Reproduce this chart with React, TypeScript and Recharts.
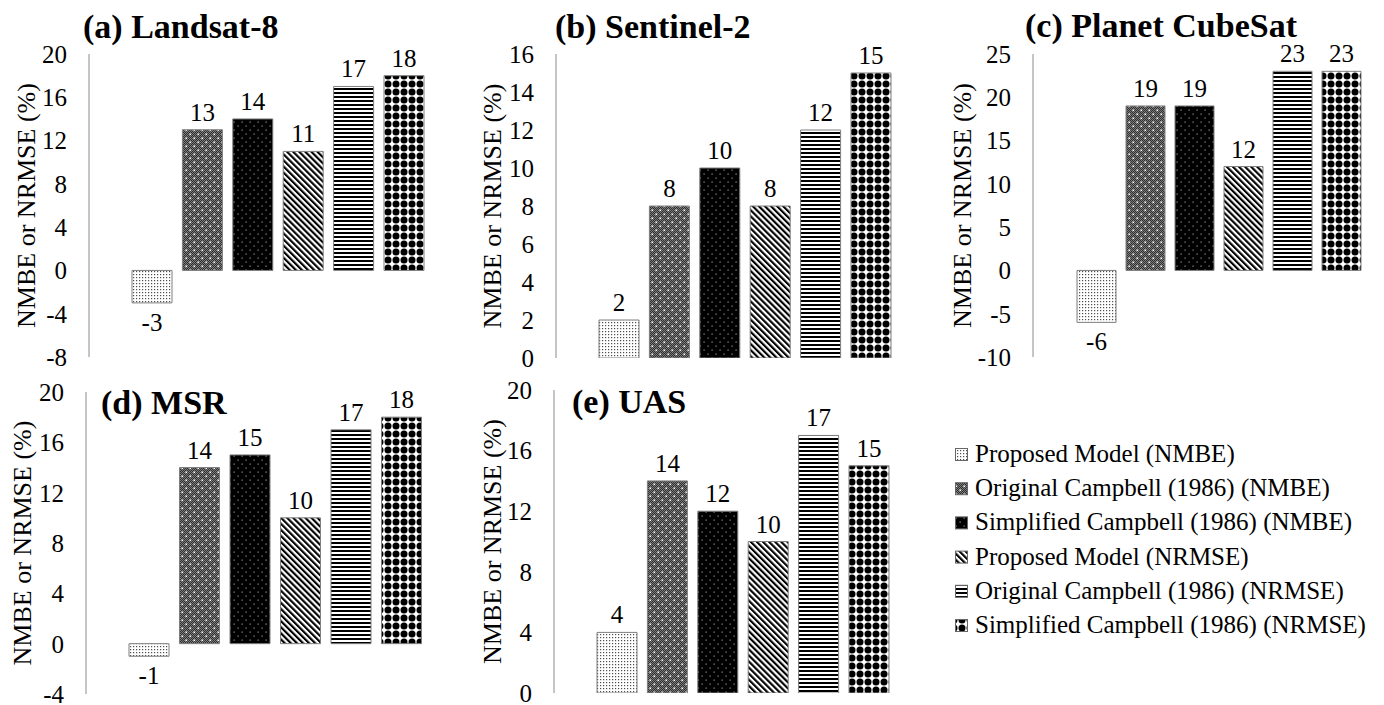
import React from 'react';
import { BarChart, Bar, XAxis, YAxis, LabelList, Legend } from 'recharts';

const FONT = '"Liberation Serif", "Times New Roman", Times, serif';

// ---------- data ----------
const SERIES_KEYS = ['pmNmbe', 'ocNmbe', 'scNmbe', 'pmNrmse', 'ocNrmse', 'scNrmse'];
const SERIES_NAMES = [
  'Proposed Model (NMBE)',
  'Original Campbell (1986) (NMBE)',
  'Simplified Campbell (1986) (NMBE)',
  'Proposed Model (NRMSE)',
  'Original Campbell (1986) (NRMSE)',
  'Simplified Campbell (1986) (NRMSE)',
];
const PANEL_TITLES = ['(a) Landsat-8', '(b) Sentinel-2', '(c) Planet CubeSat', '(d) MSR', '(e) UAS'];
const Y_TITLE = 'NMBE or NRMSE (%)';

const landsat8Values = [-3, 13, 14, 11, 17, 18];
const sentinel2Values = [2, 8, 10, 8, 12, 15];
const planetValues = [-6, 19, 19, 12, 23, 23];
const msrValues = [-1, 14, 15, 10, 17, 18];
const uasValues = [4, 14, 12, 10, 17, 15];

const landsat8Ticks = [-8, -4, 0, 4, 8, 12, 16, 20];
const sentinel2Ticks = [0, 2, 4, 6, 8, 10, 12, 14, 16];
const planetTicks = [-10, -5, 0, 5, 10, 15, 20, 25];
const msrTicks = [-4, 0, 4, 8, 12, 16, 20];
const uasTicks = [0, 4, 8, 12, 16, 20];

// ---------- layout ----------
type Lay = {
  L: number; T: number; H: number; axisX: number; plotTop: number; plotBottom: number;
  center: number; maxRight: number; barSize: number; barGap: number; yTitleX: number;
  titleX: number; titleY: number;
};

const LAYOUTS: Lay[] = [
  { L: 0, T: 0, H: 380, axisX: 89, plotTop: 54, plotBottom: 357, center: 278, maxRight: 470, barSize: 40, barGap: 10.4, yTitleX: 26, titleX: 83, titleY: 38 },
  { L: 466, T: 0, H: 380, axisX: 556, plotTop: 54, plotBottom: 358, center: 745, maxRight: 940, barSize: 40, barGap: 10.4, yTitleX: 492, titleX: 555, titleY: 38 },
  { L: 943, T: 0, H: 380, axisX: 1033, plotTop: 54, plotBottom: 357, center: 1218.5, maxRight: 1382, barSize: 39, barGap: 10, yTitleX: 962, titleX: 1025, titleY: 37 },
  { L: 0, T: 366, H: 339, axisX: 86, plotTop: 392, plotBottom: 694, center: 275, maxRight: 470, barSize: 40, barGap: 10.5, yTitleX: 22, titleX: 101, titleY: 414 },
  { L: 464, T: 366, H: 339, axisX: 554, plotTop: 390, plotBottom: 693, center: 743, maxRight: 940, barSize: 40, barGap: 10.4, yTitleX: 492, titleX: 572, titleY: 413 },
];

function PatternDefs({ p }: { p: string }) {
  return (
    <defs>
      <pattern id={`${p}-0`} patternUnits="userSpaceOnUse" width={3} height={3}>
        <rect width={3} height={3} fill="#ffffff" />
        <rect x={1} y={1} width={1.2} height={1.2} fill="#4d4d4d" />
      </pattern>
      <pattern id={`${p}-d`} patternUnits="userSpaceOnUse" width={2} height={2}>
        <rect width={2} height={2} fill="#2e2e2e" />
        <rect width={1} height={1} fill="#7c7c7c" />
        <rect x={1} y={1} width={1} height={1} fill="#7c7c7c" />
      </pattern>
      <pattern id={`${p}-1`} patternUnits="userSpaceOnUse" width={8} height={8}>
        <rect width={8} height={8} fill={`url(#${p}-d)`} />
        <rect x={1.5} y={1.5} width={1.6} height={1.6} fill="#ffffff" />
        <rect x={5.5} y={5.5} width={1.6} height={1.6} fill="#ffffff" />
      </pattern>
      <pattern id={`${p}-2`} patternUnits="userSpaceOnUse" width={8} height={8}>
        <rect width={8} height={8} fill="#000000" />
        <rect x={1.5} y={1.5} width={1.2} height={1.2} fill="#9a9a9a" />
        <rect x={5.5} y={5.5} width={1.2} height={1.2} fill="#9a9a9a" />
      </pattern>
      <pattern id={`${p}-3`} patternUnits="userSpaceOnUse" width={4.3} height={4.3} patternTransform="rotate(-45)">
        <rect width={4.3} height={4.3} fill="#ffffff" />
        <rect width={2.15} height={4.3} fill="#000000" />
      </pattern>
      <pattern id={`${p}-4`} patternUnits="userSpaceOnUse" width={4} height={4}>
        <rect width={4} height={4} fill="#ffffff" />
        <rect width={4} height={2} fill="#000000" />
      </pattern>
      <pattern id={`${p}-5`} patternUnits="userSpaceOnUse" width={8} height={8}>
        <rect width={8} height={8} fill="#ffffff" />
        <circle cx={4} cy={4} r={3.5} fill="#000000" />
      </pattern>
    </defs>
  );
}

const renderValueLabel = (props: any) => {
  const vb = props.viewBox || {};
  const bx = Number(props.x ?? vb.x);
  const by = Number(props.y ?? vb.y);
  const bw = Number(props.width ?? vb.width);
  const bh = Number(props.height ?? vb.height);
  const top = Math.min(by, by + bh);
  const bottom = Math.max(by, by + bh);
  const v = Number(props.value);
  const ty = v < 0 ? bottom + 28 : top - 9;
  return (
    <text x={bx + bw / 2} y={ty} textAnchor="middle" fontSize={25} fontFamily={FONT} fill="#000">
      {v}
    </text>
  );
};

function LegendBox() {
  return (
    <svg width={430} height={215} style={{ display: 'block', overflow: 'visible' }}>
      <PatternDefs p="lg" />
      {SERIES_NAMES.map((name, i) => {
        const base = 22 + i * 34.2;
        return (
          <g key={name}>
            <rect x={5.5} y={base - 13.5} width={12} height={12} fill={`url(#lg-${i})`} stroke="#666" strokeWidth={1} />
            <text x={25} y={base} fontSize={25} fontFamily={FONT} fill="#000">{name}</text>
          </g>
        );
      })}
    </svg>
  );
}

function Panel({ id, title, values, ticks, lay, showLegend }: { id: string; title: string; values: number[]; ticks: number[]; lay: Lay; showLegend?: boolean }) {
  const row: any = { name: title };
  SERIES_KEYS.forEach((k, i) => { row[k] = values[i]; });
  const data = [row];
  const yw = lay.axisX - lay.L;
  const plotRight = Math.min(2 * lay.center - lay.axisX, lay.maxRight);
  const padLeft = Math.max(0, 2 * lay.center - lay.axisX - plotRight);
  const W = Math.ceil(plotRight - lay.L);
  const margin = { top: lay.plotTop - lay.T, bottom: lay.T + lay.H - lay.plotBottom, left: 0, right: W - (plotRight - lay.L) };
  const yTitleY = (lay.plotTop + lay.plotBottom) / 2 - lay.T;
  const yTitleX = lay.yTitleX - lay.L;
  return (
    <div style={{ position: 'absolute', left: lay.L, top: lay.T }}>
      <BarChart width={W} height={lay.H} data={data} margin={margin} barSize={lay.barSize} barGap={lay.barGap}>
        <PatternDefs p={id} />
        <XAxis dataKey="name" type="category" hide padding={{ left: padLeft, right: 0 }} />
        <YAxis
          type="number"
          domain={[ticks[0], ticks[ticks.length - 1]]}
          ticks={ticks}
          interval={0}
          allowDataOverflow
          width={yw}
          tickLine={false}
          tickSize={6}
          tickMargin={16}
          axisLine={{ stroke: '#8c8c8c', strokeWidth: 1 }}
          tick={{ fill: '#000', fontSize: 25, fontFamily: FONT }}
          label={() => (
            <text
              x={yTitleX}
              y={yTitleY}
              transform={`rotate(-90 ${yTitleX} ${yTitleY})`}
              textAnchor="middle"
              dominantBaseline="central"
              fontSize={26}
              fontFamily={FONT}
              fill="#000"
            >
              {Y_TITLE}
            </text>
          )}
        />
        {SERIES_KEYS.map((k, i) => (
          <Bar
            key={k}
            dataKey={k}
            name={SERIES_NAMES[i]}
            fill={`url(#${id}-${i})`}
            stroke="#7f7f7f"
            strokeWidth={1}
            barSize={lay.barSize}
            isAnimationActive={false}
          >
            <LabelList dataKey={k} content={renderValueLabel} />
          </Bar>
        ))}
        {showLegend && (
          <Legend
            layout="vertical"
            align="center"
            verticalAlign="middle"
            wrapperStyle={{ left: 950 - lay.L, top: 440 - lay.T, width: 430, height: 215 }}
            content={() => <LegendBox />}
          />
        )}
      </BarChart>
    </div>
  );
}

const PANEL_VALUES = [landsat8Values, sentinel2Values, planetValues, msrValues, uasValues];
const PANEL_TICKS = [landsat8Ticks, sentinel2Ticks, planetTicks, msrTicks, uasTicks];

export default function App() {
  return (
    <div style={{ position: 'absolute', left: 0, top: 0, width: 1384, height: 705, overflow: 'hidden', background: '#fff', fontFamily: FONT }}>
      {PANEL_TITLES.map((t, i) => (
        <Panel key={t} id={`pn${i}`} title={t} values={PANEL_VALUES[i]} ticks={PANEL_TICKS[i]} lay={LAYOUTS[i]} showLegend={i === 4} />
      ))}
      <svg width={1384} height={705} style={{ position: 'absolute', left: 0, top: 0, pointerEvents: 'none' }}>
        {PANEL_TITLES.map((t, i) => (
          <text key={t} x={LAYOUTS[i].titleX} y={LAYOUTS[i].titleY} fontSize={34} fontWeight="bold" fontFamily={FONT} fill="#000">
            {t}
          </text>
        ))}
      </svg>
    </div>
  );
}
